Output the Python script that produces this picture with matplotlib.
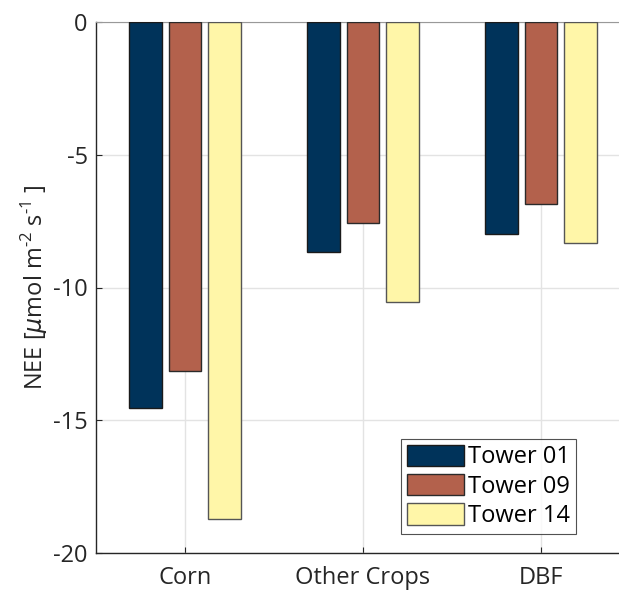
import numpy as np
import matplotlib.pyplot as plt

plt.rcParams['font.family'] = ['Open Sans', 'DejaVu Sans']
plt.rcParams['mathtext.fontset'] = 'custom'
plt.rcParams['mathtext.rm'] = 'Open Sans'
plt.rcParams['mathtext.it'] = 'DejaVu Sans:italic'

# mean NEE per land cover class at each tower
classes = ['Corn', 'Other Crops', 'DBF']
towers = ['Tower 01', 'Tower 09', 'Tower 14']
tower01 = [-14.55, -8.65, -7.97]
tower09 = [-13.14, -7.56, -6.87]
tower14 = [-18.72, -10.55, -8.32]

colors = ['#00335a', '#b3614c', '#fff6a8']
edges = ['#1a1a1a', '#2a2a2a', '#555555']

fig = plt.figure(figsize=(6.19, 5.92), dpi=100)
ax = fig.add_axes([96 / 619, 1 - 553 / 592, 534 / 619, 531 / 592])

x = np.arange(1, len(classes) + 1)
width = 0.18
offset = 0.222
for i, (vals, name) in enumerate(zip([tower01, tower09, tower14], towers)):
    ax.bar(x + (i - 1) * offset, vals, width, color=colors[i], edgecolor=edges[i],
           linewidth=1.0, label=name, zorder=3)

ax.set_xlim(0.5, 3.5)
ax.set_ylim(-20, 0)
ax.set_xticks(x)
ax.set_xticklabels(classes)
ax.set_yticks([0, -5, -10, -15, -20])
ax.set_yticklabels(['0', '-5', '-10', '-15', '-20'])
ax.tick_params(direction='in', length=4, labelsize=17, colors='#262626', width=0.8)
ax.tick_params(axis='x', pad=9)
ax.tick_params(axis='y', pad=6)
ax.grid(True, color='#e3e3e3', linewidth=1.0, zorder=0)
ax.set_axisbelow(True)
for side in ['left', 'bottom']:
    ax.spines[side].set_color('#262626')
    ax.spines[side].set_linewidth(1.0)
ax.spines['top'].set_color('#999999')
ax.spines['right'].set_visible(False)

ax.set_ylabel(r'NEE [$\mu$mol m$^{\text{-2}}$ s$^{\text{-1}}$ ]', fontsize=17,
              color='#262626', labelpad=2)

leg = ax.legend(loc='lower left', bbox_to_anchor=((401 - 96) / 534, (553 - 534) / 531),
                fontsize=17, frameon=True, fancybox=False, edgecolor='#262626',
                handlelength=2.4, handleheight=1.0, handletextpad=0.2,
                borderpad=0.25, labelspacing=0.2, borderaxespad=0)
leg.get_frame().set_linewidth(0.8)

fig.savefig('out.png', dpi=100)
